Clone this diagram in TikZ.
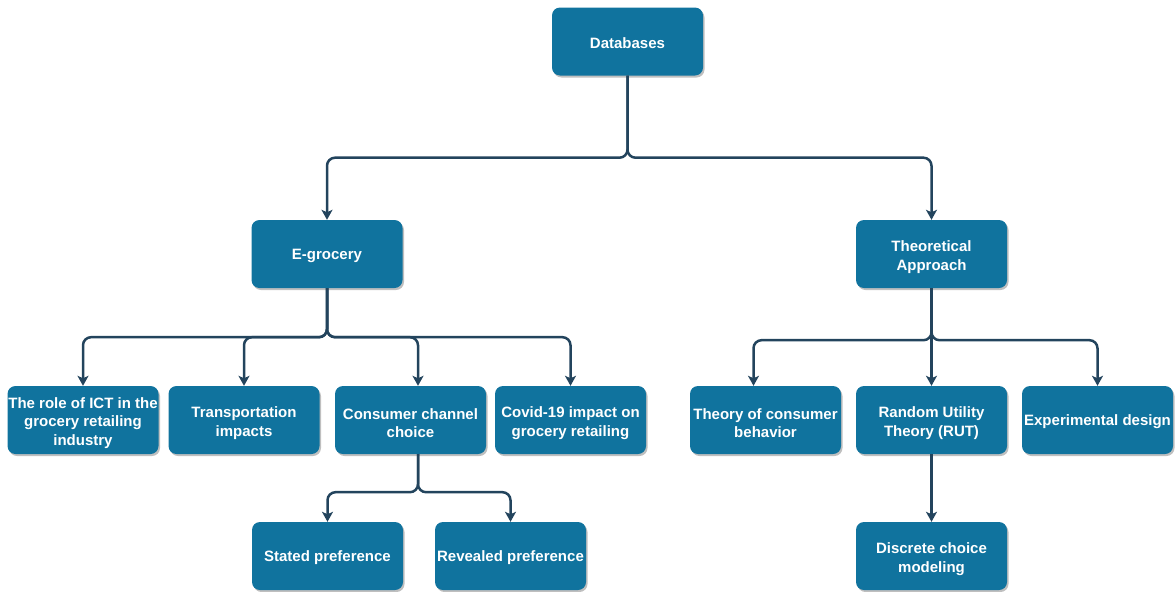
\documentclass[tikz,border=0pt]{standalone}
\usepackage{fontspec}
\setmainfont{Liberation Sans}
\usetikzlibrary{arrows.meta,shadows}
\definecolor{boxblue}{HTML}{10739E}
\definecolor{linenavy}{HTML}{23445D}
\tikzset{
  box/.style={rectangle, rounded corners=8pt, fill=boxblue, draw=none,
    minimum width=151pt, minimum height=68pt, inner sep=0pt,
    align=center, text=white, font=\fontsize{15}{18.5}\selectfont\bfseries,
    execute at begin node={\rule{0pt}{14.5pt}},
    drop shadow={shadow xshift=1.5pt, shadow yshift=-2pt, fill=black, opacity=0.25}},
  multi/.style={execute at begin node={\rule{0pt}{#1}}},
  multi/.default=35.5pt,
  conn/.style={draw=linenavy, line width=2.5pt, rounded corners=8pt,
    -{Stealth[length=10pt,width=11pt,inset=2.5pt]}}
}
\begin{document}
\begin{tikzpicture}[x=1pt,y=-1pt]
\useasboundingbox (0,0) rectangle (1176,592);
% nodes
\node[box] (db) at (627.5,41.5) {Databases};
\node[box] (eg) at (327,254) {E-grocery};
\node[box,multi] (ta) at (931.5,254) {Theoretical\\Approach};
\node[box,multi=54pt] (ict) at (83,420) {The role of ICT in the\\grocery retailing\\industry};
\node[box,multi] (tr) at (244,420) {Transportation\\impacts};
\node[box,multi] (cc) at (410.5,420) {Consumer channel\\choice};
\node[box,multi] (cv) at (570.5,420) {Covid-19 impact on\\grocery retailing};
\node[box,multi] (tcb) at (765.5,420) {Theory of consumer\\behavior};
\node[box,multi] (rut) at (931.5,420) {Random Utility\\Theory (RUT)};
\node[box] (ed) at (1097.5,420) {Experimental design};
\node[box] (sp) at (327.5,556) {Stated preference};
\node[box] (rp) at (510.5,556) {Revealed preference};
\node[box,multi] (dcm) at (931.5,556) {Discrete choice\\modeling};
% connectors
\draw[conn] (db.south) -- ++(0,82) -| (eg.north);
\draw[conn] (db.south) -- ++(0,82) -| (ta.north);
\draw[conn] (eg.south) -- ++(0,49) -| (ict.north);
\draw[conn] (eg.south) -- ++(0,49) -| (tr.north);
\draw[conn] (eg.south) -- ++(0,49) -| ([xshift=7.5pt]cc.north);
\draw[conn] (eg.south) -- ++(0,49) -| (cv.north);
\draw[conn] ([xshift=7.5pt]cc.south) -- ++(0,38) -| (sp.north);
\draw[conn] ([xshift=7.5pt]cc.south) -- ++(0,38) -| (rp.north);
\draw[conn] (ta.south) -- ++(0,52) -| ([xshift=-12pt]tcb.north);
\draw[conn] (ta.south) -- (rut.north);
\draw[conn] (ta.south) -- ++(0,52) -| (ed.north);
\draw[conn] (rut.south) -- (dcm.north);
\end{tikzpicture}
\end{document}
